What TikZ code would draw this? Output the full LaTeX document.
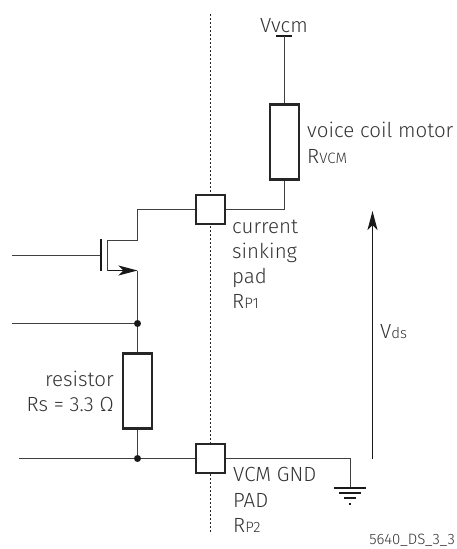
\documentclass[tikz,border=0pt]{standalone}
\usepackage{fontspec}
\setmainfont{Fira Sans}[UprightFont=* Light]
\usetikzlibrary{arrows.meta}
\tikzset{
  wire/.style={draw=black!75,line width=1.1pt},
  bar/.style={draw=black!90,line width=2pt},
  padbox/.style={draw=black!85,line width=2.4pt,fill=white,minimum size=29pt,inner sep=0pt},
  resbox/.style={draw=black!85,line width=2.4pt,fill=white,minimum width=29pt,minimum height=75pt,inner sep=0pt},
  junction/.style={circle,fill=black!90,minimum size=7pt,inner sep=0pt},
  lbl/.style={text=black!80,font=\fontsize{20.5}{20.5}\selectfont,inner sep=0pt,anchor=base west},
  lblsmall/.style={font=\fontsize{15}{15}\selectfont},
  head/.style={-{Stealth[length=19pt,width=10pt,inset=5pt]}}
}
\newcommand{\smalltxt}[1]{{\fontsize{15}{15}\selectfont #1}}
\begin{document}
\begin{tikzpicture}[x=1pt,y=-1pt]
  \useasboundingbox (0,0) rectangle (457,549);
  % pads and resistors
  \coordinate	(DT)	at (210.5,14);
  \coordinate	(DB)	at (210.5,533);
  \draw[black!85,line width=1.1pt,dash pattern=on 2pt off 2pt]	(DT) -- (DB);
  \node[padbox]	(P1)	at (210.5,209.5)	{};
  \node[padbox]	(P2)	at (210.5,458.5)	{};
  \node[resbox]	(M)	at (284.5,142)	{};
  \node[resbox]	(R)	at (137.5,391)	{};
  % supply
  \coordinate	(VT)	at (284.5,36);
  \coordinate	(VL)	at (276,36);
  \coordinate	(VR)	at (292,36);
  \draw[bar]	(VL) -- (VR);
  \draw[wire]	(VT) -- (M);
  \draw[wire]	(M) |- (P1);
  % transistor
  \coordinate	(GI)	at (12,255.5);
  \coordinate	(G)	at (100.5,255.5);
  \coordinate	(GT)	at (100.5,239);
  \coordinate	(GB)	at (100.5,271);
  \coordinate	(D)	at (107.5,240.5);
  \coordinate	(S)	at (107.5,270.5);
  \coordinate	(SE)	at (137.5,270.5);
  \coordinate	(DE)	at (137.5,240.5);
  \draw[wire]	(GI) -- (G);
  \draw[bar]	(GT) -- (GB);
  \draw[wire]	(S) -- (D) -- (DE) |- (P1);
  \draw[wire,head,black!90]	(S) -- (SE);
  \node[junction]	(J1)	at (137.5,323.5)	{};
  \node[junction]	(J2)	at (137.5,458.5)	{};
  \coordinate	(I1)	at (12,323.5);
  \coordinate	(I2)	at (19,458.5);
  \draw[wire]	(SE) -- (J1);
  \draw[wire]	(J1) -- (R);
  \draw[wire]	(R) -- (J2);
  \draw[wire]	(I1) -- (J1);
  \draw[wire]	(I2) -- (J2);
  \draw[wire]	(J2) -- (P2);
  % ground
  \coordinate	(GC)	at (350.5,458.5);
  \coordinate	(GN)	at (350.5,488);
  \draw[wire]	(P2) -- (GC) -- (GN);
  \coordinate	(A1)	at (334,488);
  \coordinate	(A2)	at (366,488);
  \coordinate	(B1)	at (339,493);
  \coordinate	(B2)	at (361,493);
  \coordinate	(C1)	at (344,498);
  \coordinate	(C2)	at (356,498);
  \coordinate	(E1)	at (349,504);
  \coordinate	(E2)	at (351,504);
  \draw[black!90,line width=1.8pt]	(A1) -- (A2);
  \draw[black!90,line width=1.8pt]	(B1) -- (B2);
  \draw[black!90,line width=1.8pt]	(C1) -- (C2);
  \draw[black!90,line width=1.8pt]	(E1) -- (E2);
  % voltage arrow
  \coordinate	(VB)	at (372.5,459);
  \coordinate	(VA)	at (372.5,211);
  \draw[wire,head,black!90]	(VB) -- (VA);
  % labels
  \node[lbl,anchor=base]	(LV)	at (284,32)	{Vvcm};
  \node[lbl]	(LM)	at (307,137)	{voice coil motor};
  \node[lbl]	(LMR)	at (307,163)	{R\smalltxt{VCM}};
  \node[lbl]	(LP1)	at (232,233)	{current};
  \node[lbl]	(LP2)	at (232,258)	{sinking};
  \node[lbl]	(LP3)	at (232,283)	{pad};
  \node[lbl]	(LP4)	at (232,308)	{R\smalltxt{P1}};
  \node[lbl]	(LVD)	at (380,338)	{V\smalltxt{ds}};
  \node[lbl,anchor=base east]	(LR1)	at (114,386)	{resistor};
  \node[lbl,anchor=base east]	(LR2)	at (114,411)	{Rs = 3.3 Ω};
  \node[lbl]	(LG1)	at (233,481)	{VCM GND};
  \node[lbl]	(LG2)	at (233,507)	{PAD};
  \node[lbl]	(LG3)	at (233,532)	{R\smalltxt{P2}};
  \node[lbl,lblsmall,anchor=base east]	(LID)	at (455,544.5)	{5640\_DS\_3\_3};
\end{tikzpicture}
\end{document}
